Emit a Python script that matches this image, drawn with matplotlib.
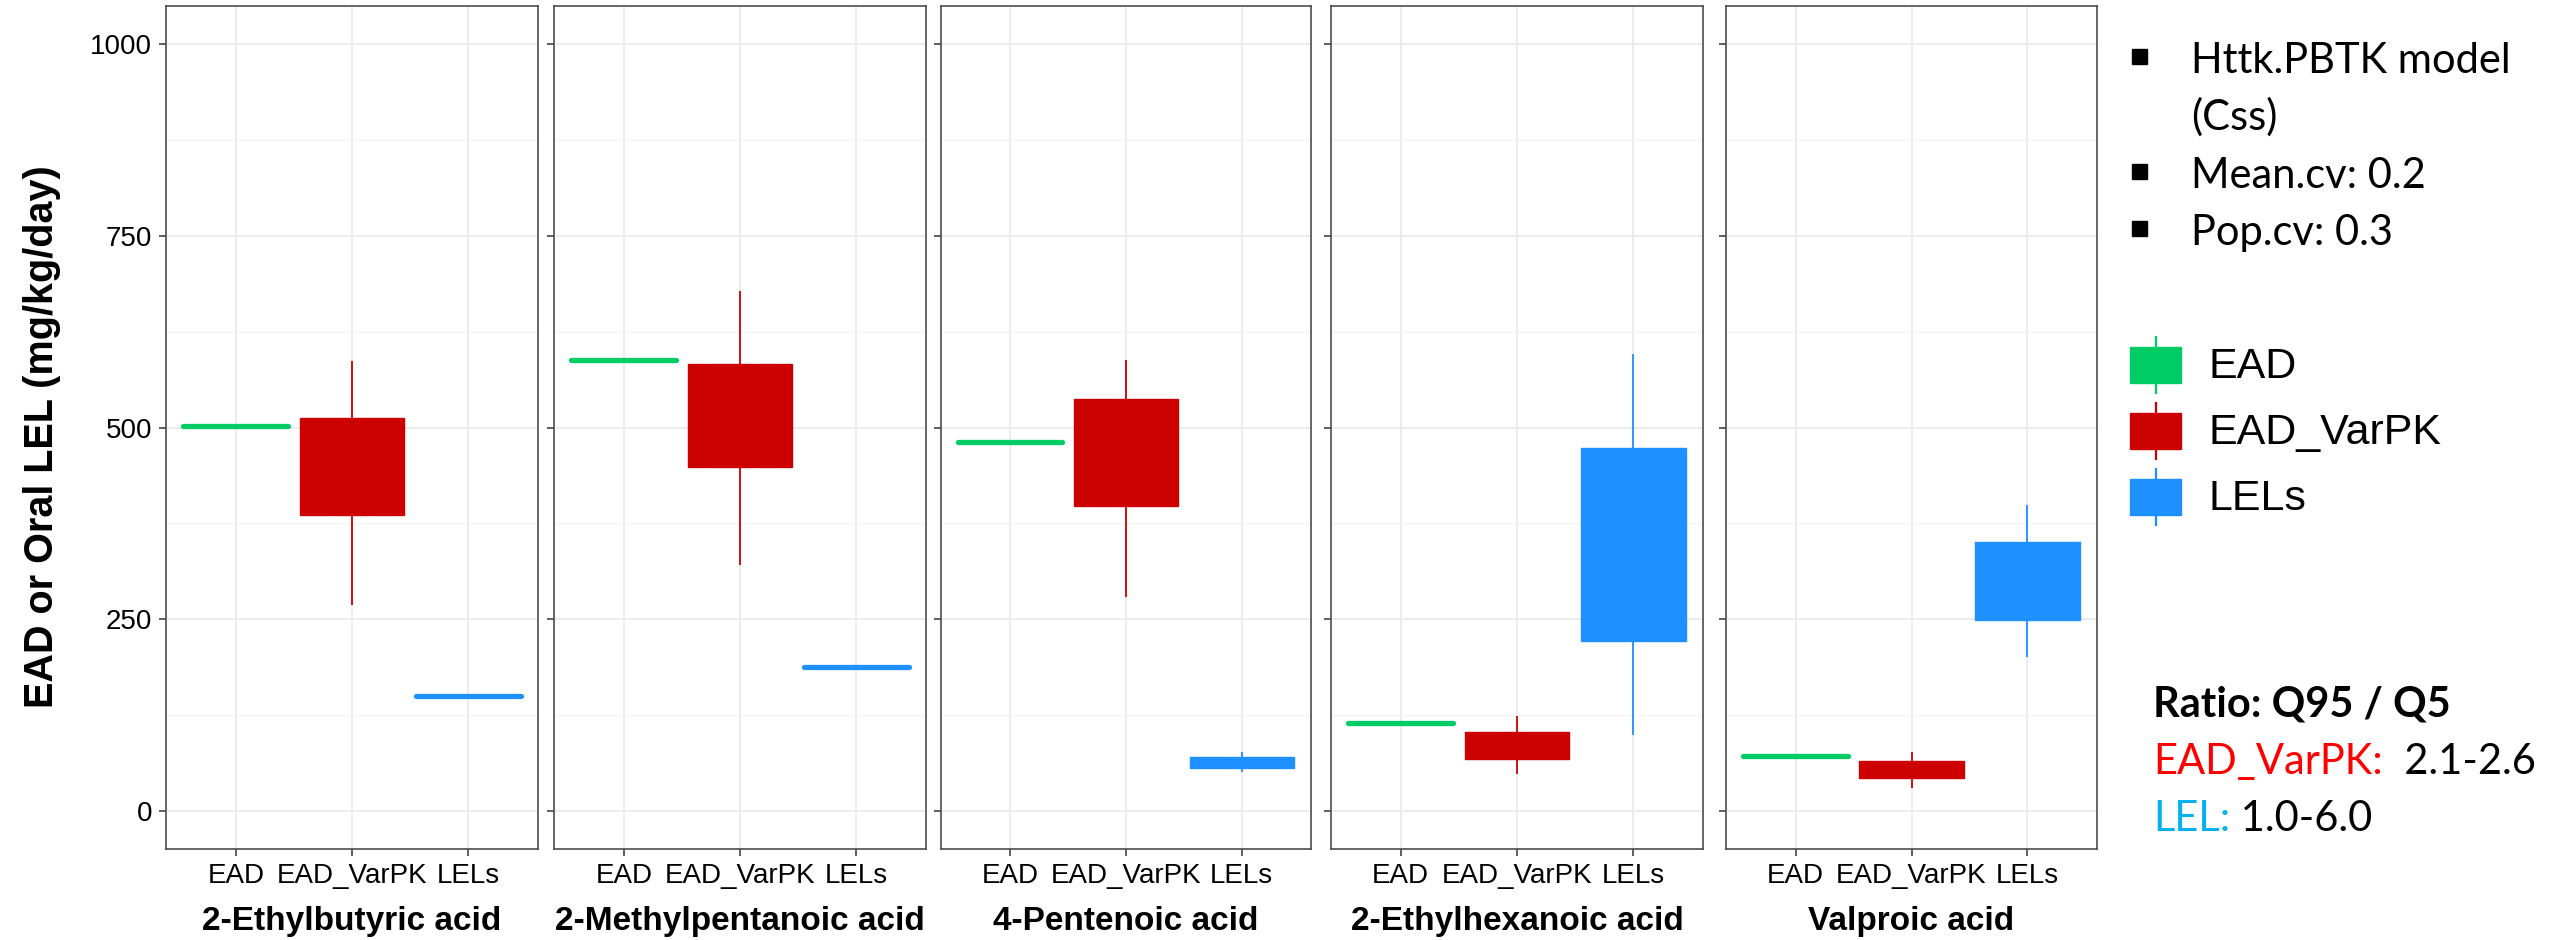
import numpy as np
import matplotlib
matplotlib.use("Agg")
import matplotlib.pyplot as plt
from matplotlib import font_manager
from matplotlib.patches import Rectangle

# compounds (one panel each) and the three groups
compounds = ["2-Ethylbutyric acid", "2-Methylpentanoic acid", "4-Pentenoic acid",
             "2-Ethylhexanoic acid", "Valproic acid"]
groups = ["EAD", "EAD_VarPK", "LELs"]
colors = {"EAD": "#00CC66", "EAD_VarPK": "#CC0000", "LELs": "#1E90FF"}

# EAD point value per compound
ead = [502, 588, 481, 115, 72]

# EAD_VarPK: lower whisker, Q1, Q3, upper whisker
varpk_lo = [269, 320, 279, 48, 30]
varpk_q1 = [386, 448, 398, 67, 42]
varpk_q3 = [512, 583, 537, 103, 65]
varpk_hi = [587, 678, 588, 124, 76]

# LELs: lower whisker, Q1, Q3, upper whisker
lel_lo = [150, 188, 51, 99, 201]
lel_q1 = [150, 188, 56, 221, 249]
lel_q3 = [150, 188, 70, 473, 351]
lel_hi = [150, 188, 76, 596, 399]

yticks = [0, 250, 500, 750, 1000]

names = {f.name for f in font_manager.fontManager.ttflist}
if "Liberation Sans Narrow" in names:
    axfont, tick_size, title_size = "Liberation Sans Narrow", 21, 28
else:
    axfont, tick_size, title_size = "Liberation Sans", 20, 24
txtfont = "Lato" if "Lato" in names else "DejaVu Sans"

W, H = 2552, 940
fig = plt.figure(figsize=(W / 100, H / 100), dpi=100)

# panel edges in pixels
panel_x = [(166, 538), (554, 926), (941, 1311), (1331, 1703), (1726, 2097)]
top, bottom = 6, 849

frame_col = "#4d4d4d"


def draw_box(ax, x, lo, q1, q3, hi, c):
    if q3 > q1:
        ax.bar(x, q3 - q1, bottom=q1, width=0.9, color=c, edgecolor=c, linewidth=1.0, zorder=3)
    else:
        ax.hlines(q1, x - 0.45, x + 0.45, colors=c, linewidth=3.8, capstyle="round", zorder=3)
    if hi > q3:
        ax.vlines(x, q3, hi, colors=c, linewidth=1.3, zorder=2)
    if lo < q1:
        ax.vlines(x, lo, q1, colors=c, linewidth=1.3, zorder=2)


for i, name in enumerate(compounds):
    x0, x1 = panel_x[i]
    ax = fig.add_axes([x0 / W, 1 - bottom / H, (x1 - x0) / W, (bottom - top) / H])
    ax.set_xlim(0.4, 3.6)
    ax.set_ylim(-50, 1050)
    ax.set_xticks([1, 2, 3])
    ax.set_xticklabels(groups)
    ax.set_yticks(yticks)
    ax.set_yticks([125, 375, 625, 875], minor=True)
    if i == 0:
        ax.set_yticklabels([str(v) for v in yticks])
    else:
        ax.set_yticklabels([])
    ax.grid(True, which="major", color="#EBEBEB", linewidth=1.3, zorder=0)
    ax.grid(True, which="minor", axis="y", color="#F3F3F3", linewidth=0.8, zorder=0)
    ax.set_axisbelow(True)
    ax.tick_params(axis="both", which="major", length=5, width=1.1, color="#333333",
                   labelsize=tick_size, labelcolor="black", pad=5)
    ax.tick_params(axis="y", which="minor", length=0)
    for lab in ax.get_xticklabels() + ax.get_yticklabels():
        lab.set_fontfamily(axfont)
    for s in ax.spines.values():
        s.set_color(frame_col)
        s.set_linewidth(1.2)

    draw_box(ax, 1, ead[i], ead[i], ead[i], ead[i], colors["EAD"])
    draw_box(ax, 2, varpk_lo[i], varpk_q1[i], varpk_q3[i], varpk_hi[i], colors["EAD_VarPK"])
    draw_box(ax, 3, lel_lo[i], lel_q1[i], lel_q3[i], lel_hi[i], colors["LELs"])

    fig.text((x0 + x1) / 2 / W, 1 - 930 / H, name, ha="center", va="baseline",
             fontsize=title_size, fontweight="bold", family=axfont)

fig.text(42 / W, 1 - 437 / H, "EAD or Oral LEL (mg/kg/day)", rotation=90,
         ha="center", va="center", fontsize=28.5, fontweight="bold", family="Liberation Sans")

# overlay in pixel coordinates for the side annotations
ov = fig.add_axes([0, 0, 1, 1])
ov.set_xlim(0, W)
ov.set_ylim(H, 0)
ov.axis("off")

notes = [("Httk.PBTK model", True, 73), ("(Css)", False, 130),
         ("Mean.cv: 0.2", True, 188), ("Pop.cv: 0.3", True, 245)]
for txt, bullet, base in notes:
    if bullet:
        ov.add_patch(Rectangle((2132, base - 24), 15, 15, color="black"))
    ov.text(2191, base, txt, fontsize=30, family=txtfont, va="baseline", ha="left")

# legend keys
for k, g in enumerate(groups):
    cy = 365 + 66 * k
    c = colors[g]
    ov.add_patch(Rectangle((2130, cy - 18), 51, 36, color=c))
    ov.plot([2155.5, 2155.5], [cy - 28, cy + 28], color=c, lw=1.6)
    ov.text(2209, cy + 2, g, fontsize=31, family="Liberation Sans", va="center", ha="left")

ov.text(2153, 717, "Ratio: Q95 / Q5", fontsize=30, fontweight="bold", family=txtfont,
        va="baseline", ha="left")

fig.canvas.draw()
renderer = fig.canvas.get_renderer()
inv = ov.transData.inverted()
for first, c1, second, base in [("EAD_VarPK:", "#FF0000", "  2.1-2.6", 774),
                                ("LEL:", "#00B0F0", " 1.0-6.0", 831)]:
    t = ov.text(2153, base, first, fontsize=30, family=txtfont, color=c1,
                va="baseline", ha="left")
    bb = t.get_window_extent(renderer)
    xe = inv.transform((bb.x1, bb.y0))[0]
    ov.text(xe, base, second, fontsize=30, family=txtfont, color="black",
            va="baseline", ha="left")

plt.savefig("out.png", dpi=100)
